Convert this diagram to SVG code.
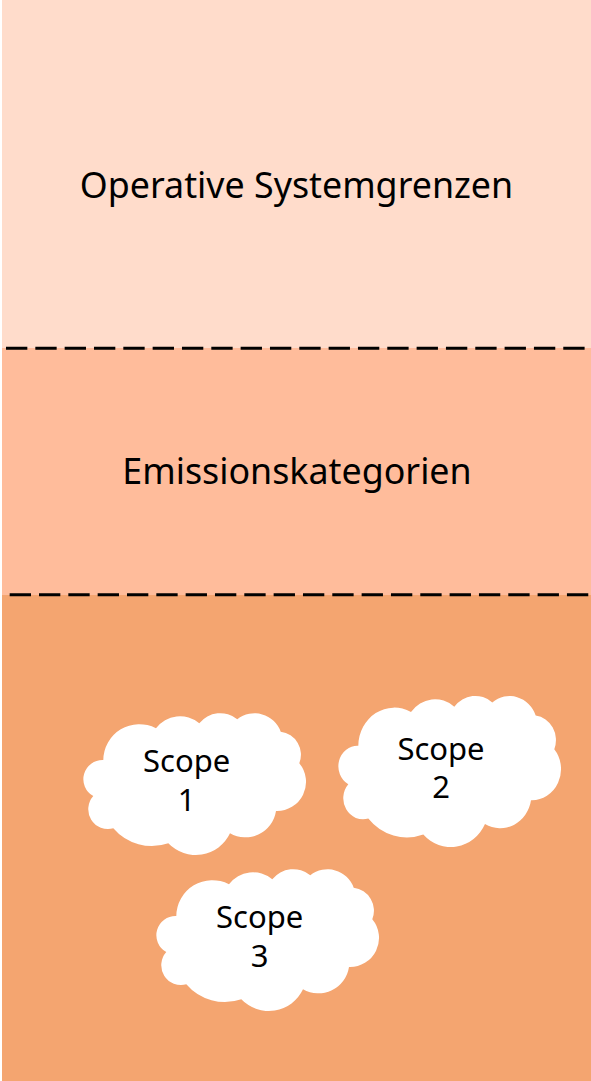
<svg xmlns="http://www.w3.org/2000/svg" width="591" height="1081" viewBox="0 0 591 1081">
<style>
.t{font-family:"Noto Sans","Open Sans",sans-serif;fill:#000;text-anchor:middle}
.big{font-size:35.8px}
.mid{font-size:31px}
.dash{stroke:#000;stroke-width:3;stroke-dasharray:21.33 8;fill:none}
.cloud{fill:#fff}
</style>
<defs>
<path id="c" d="M103.3 760A36 36 0 0 1 156 728.3A30 30 0 0 1 199.3 723.3A26.800 26.800 0 0 1 237.3 719.3A27.800 27.800 0 0 1 280.7 731.7A23.200 23.200 0 0 1 299.3 763.3A29.100 29.100 0 0 1 276 811A31 31 0 0 1 230 833.3A37.900 37.900 0 0 1 168.3 843.3A50.700 50.700 0 0 1 113.3 828.3A19.800 19.800 0 0 1 93.3 796A19.200 19.200 0 0 1 103.3 760Z"/>
</defs>
<g id="bands">
<rect x="2" y="0" width="589" height="348" fill="#ffdccb"/>
<rect x="2" y="348" width="589" height="247" fill="#ffbc9b"/>
<rect x="2" y="595" width="589" height="486" fill="#f4a570"/>
</g>
<g id="connectors">
<path class="dash" d="M6 348.200H585"/>
<path class="dash" d="M9.67 594.700H589"/>
</g>
<g id="operative"><text class="t big" x="296.500" y="198">Operative Systemgrenzen</text></g>
<g id="emission"><text class="t big" x="297" y="484">Emissionskategorien</text></g>
<g id="scope1"><use href="#c" class="cloud"/><text class="t mid" x="186.700" y="772">Scope</text><text class="t mid" x="186.700" y="811">1</text></g>
<g id="scope2"><use href="#c" class="cloud" transform="translate(255 696) scale(1 1.066) translate(0 -713.3)"/><text class="t mid" x="441" y="760">Scope</text><text class="t mid" x="441" y="798">2</text></g>
<g id="scope3"><use href="#c" class="cloud" transform="translate(73 156)"/><text class="t mid" x="259.700" y="928">Scope</text><text class="t mid" x="259.700" y="967">3</text></g>
</svg>
